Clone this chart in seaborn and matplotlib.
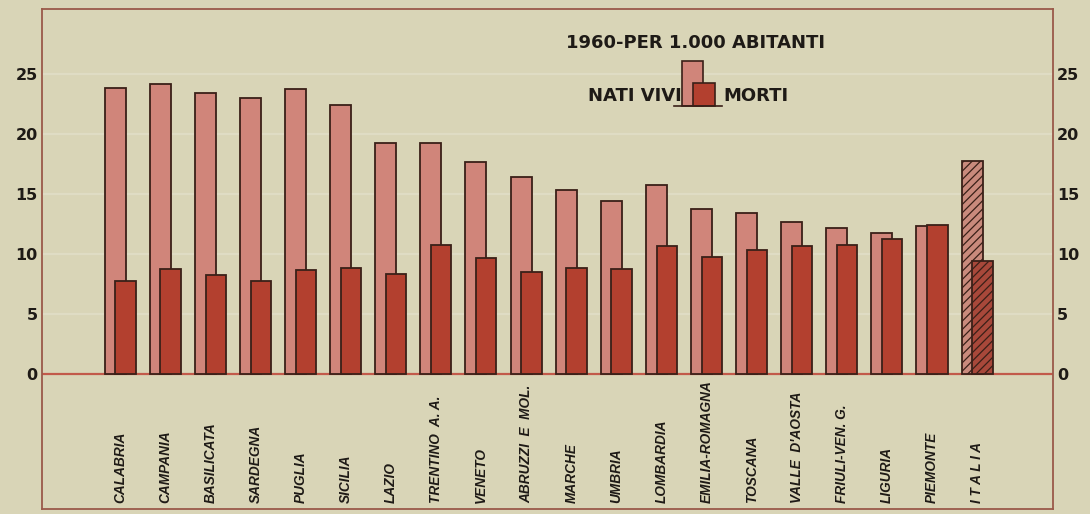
import matplotlib.pyplot as plt
import seaborn as sns
import numpy as np
from matplotlib.patches import Rectangle

# Nati vivi e morti per 1.000 abitanti, 1960
regioni = ['CALABRIA', 'CAMPANIA', 'BASILICATA', 'SARDEGNA', 'PUGLIA', 'SICILIA',
           'LAZIO', 'TRENTINO  A. A.', 'VENETO', 'ABRUZZI  E  MOL.', 'MARCHE',
           'UMBRIA', 'LOMBARDIA', 'EMILIA-ROMAGNA', 'TOSCANA', "VALLE  D'AOSTA",
           'FRIULI-VEN. G.', 'LIGURIA', 'PIEMONTE', 'I T A L I A']
nati_vivi = [23.8, 24.1, 23.4, 23.0, 23.7, 22.4, 19.2, 19.2, 17.6, 16.4,
             15.3, 14.4, 15.7, 13.7, 13.4, 12.6, 12.1, 11.7, 12.3, 17.7]
morti = [7.7, 8.7, 8.2, 7.7, 8.6, 8.8, 8.3, 10.7, 9.6, 8.5,
         8.8, 8.7, 10.6, 9.7, 10.3, 10.6, 10.75, 11.25, 12.4, 9.4]
yticks = [0, 5, 10, 15, 20, 25]

paper = '#d9d5b7'
light = '#d0857a'
dark = '#b3402f'
edge = '#3a2018'
frame = '#9a5a4a'
ink = '#1e1a16'

plt.rcParams['hatch.linewidth'] = 0.9

fig = plt.figure(figsize=(10.9, 5.14), dpi=100, facecolor=paper)
ax = fig.add_axes([0.0381, 0.0097, 0.9280, 0.9722], facecolor=paper)

pos = np.arange(len(regioni))

# faint paper streaks at tick levels
for v in yticks[1:]:
    ax.axhline(v, color='#dfdcc4', lw=1.6, zorder=0)
ax.axhline(0, color='#c25a4a', lw=1.6, zorder=1)

sns.barplot(x=pos - 0.115, y=nati_vivi, native_scale=True, orient='x',
            width=0.466, color=light, saturation=1, edgecolor=edge,
            linewidth=1.3, errorbar=None, ax=ax, zorder=2)
light_bars = list(ax.patches)
sns.barplot(x=pos + 0.115, y=morti, native_scale=True, orient='x',
            width=0.45, color=dark, saturation=1, edgecolor=edge,
            linewidth=1.3, errorbar=None, ax=ax, zorder=3)
dark_bars = [p for p in ax.patches if p not in light_bars]

# ITALIA hatched
light_bars[-1].set_hatch('////')
light_bars[-1].set_facecolor('#c98a7c')
dark_bars[-1].set_hatch('////')
dark_bars[-1].set_facecolor('#a8483a')

ax.set_xlim(-1.747, 20.68)
ax.set_ylim(-11.29, 30.35)
ax.set_xticks([])
ax.set_yticks(yticks)
ax.set_xlabel('')
ax.set_ylabel('')
ax.tick_params(axis='y', length=0, pad=2.8, labelsize=11.5, labelcolor=ink,
               left=False, right=False, labelleft=True, labelright=True)
for lab in ax.get_yticklabels():
    lab.set_fontweight('semibold')
for s in ax.spines.values():
    s.set_color(frame)
    s.set_linewidth(1.3)
    s.set_visible(True)

# region labels inside the frame
for i, name in enumerate(regioni):
    ax.text(i, -10.77, name, rotation=90, ha='center', va='bottom',
            fontsize=9.8, fontstyle='italic', fontweight='bold',
            family='Liberation Sans', color=ink)

# title and legend
ax.text(12.76, 27.58, '1960-PER 1.000 ABITANTI', ha='center', va='center',
        fontsize=13, color=ink, fontweight='bold')
ax.add_patch(Rectangle((12.46, 22.29), 0.466, 3.75, facecolor=light,
                       edgecolor=edge, lw=1.2, zorder=4))
ax.add_patch(Rectangle((12.69, 22.29), 0.49, 1.94, facecolor=dark,
                       edgecolor=edge, lw=1.2, zorder=5))
ax.plot([12.27, 13.33], [22.29, 22.29], color=edge, lw=1.2, zorder=6)
ax.text(12.44, 23.12, 'NATI VIVI', ha='right', va='center', fontsize=13,
        color=ink, fontweight='bold')
ax.text(13.37, 23.12, 'MORTI', ha='left', va='center', fontsize=13,
        color=ink, fontweight='bold')

fig.savefig('out.png', dpi=100, facecolor=paper)
